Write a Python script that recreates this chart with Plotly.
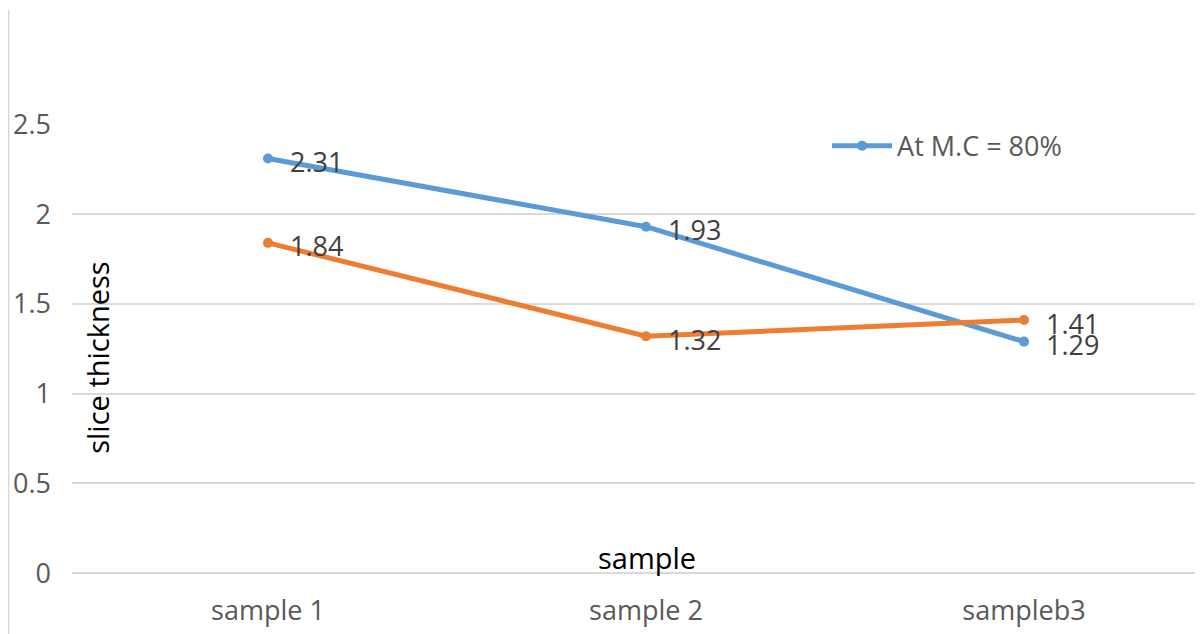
import plotly.graph_objects as go

categories = ["sample 1", "sample 2", "sampleb3"]
series_blue = [2.31, 1.93, 1.29]
series_orange = [1.84, 1.32, 1.41]
blue_name = "At M.C = 80%"
orange_name = "Series 2"
y_ticks = [0, 0.5, 1, 1.5, 2, 2.5]
y_tick_text = ["0", "0.5", "1", "1.5", "2", "2.5"]

BLUE = "#5B9BD5"
ORANGE = "#ED7D31"
FONT = "Open Sans"

fig = go.Figure()
fig.add_trace(go.Scatter(x=categories, y=series_blue, name=blue_name, mode="lines+markers",
                         line=dict(color=BLUE, width=5), marker=dict(size=10, color=BLUE)))
fig.add_trace(go.Scatter(x=categories, y=series_orange, name=orange_name, mode="lines+markers",
                         line=dict(color=ORANGE, width=5), marker=dict(size=10, color=ORANGE),
                         showlegend=False))

for vals in (series_blue, series_orange):
    for c, v in zip(categories, vals):
        fig.add_annotation(x=c, y=v, text=f"{v:.2f}", showarrow=False, xanchor="left",
                           yanchor="middle", xshift=20, yshift=-3,
                           font=dict(family=FONT, size=27, color="#404040"))

fig.add_annotation(xref="paper", yref="paper", x=0.5084, y=0.039, text="sample", showarrow=False,
                   font=dict(family=FONT, size=29, color="#000000"), xanchor="center", yanchor="middle")
fig.add_annotation(xref="paper", yref="paper", x=0.023, y=0.4817, text="slice thickness", textangle=-90,
                   showarrow=False, font=dict(family=FONT, size=29, color="#000000"),
                   xanchor="center", yanchor="middle")

fig.add_shape(type="line", xref="paper", yref="paper", x0=-0.0562, x1=-0.0562, y0=-0.2, y1=1.2536,
              line=dict(color="#D9D9D9", width=2))

fig.update_layout(
    width=1195, height=626,
    margin=dict(l=64, r=0, t=116, b=58.7, autoexpand=False),
    plot_bgcolor="white", paper_bgcolor="white",
    showlegend=True,
    legend=dict(x=0.6676, y=0.951, xanchor="left", yanchor="middle", bgcolor="rgba(0,0,0,0)",
                font=dict(family=FONT, size=27, color="#595959"), itemwidth=60),
    xaxis=dict(type="category", range=[-0.5185, 2.4735], showgrid=False, showline=False,
               zeroline=False, ticks="", tickfont=dict(family=FONT, size=27, color="#595959"),
               ticklabelstandoff=17, automargin=False),
    yaxis=dict(range=[-0.01, 2.502], tickvals=y_ticks, ticktext=y_tick_text, showgrid=True,
               gridcolor="#D9D9D9", gridwidth=2, zeroline=True, zerolinecolor="#D9D9D9",
               zerolinewidth=2, showline=False, ticks="",
               tickfont=dict(family=FONT, size=27, color="#595959"), ticklabelstandoff=20,
               automargin=False),
)

fig.write_html("out.html")
